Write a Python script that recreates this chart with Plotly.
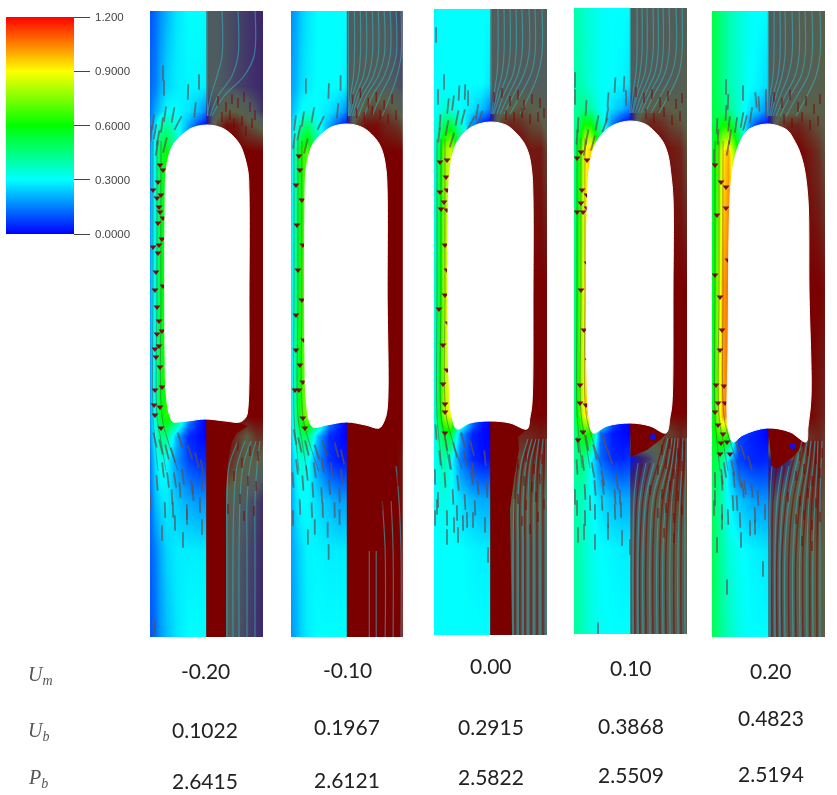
import numpy as np
import plotly.graph_objects as go

# table under the panels
UM = ["-0.20", "-0.10", "0.00", "0.10", "0.20"]
UB = ["0.1022", "0.1967", "0.2915", "0.3868", "0.4823"]
PB = ["2.6415", "2.6121", "2.5822", "2.5509", "2.5194"]

# speed field, left half of each panel (rows = GRID_Y, cols = LEFT_X)
GRID_Y = [0, 75, 100, 114, 140, 280, 405, 425, 450, 490, 540, 626]
LEFT_X = [0, 5, 10, 16, 26, 38, 48, 56.4]
P1_LEFT = [
    [.10, .13, .17, .21, .27, .30, .30, .30],
    [.12, .15, .20, .25, .28, .29, .29, .28],
    [.14, .20, .25, .30, .30, .27, .22, .15],
    [.16, .27, .38, .42, .33, .20, .08, .00],
    [.18, .36, .54, .60, .40, .10, .02, .00],
    [.20, .36, .56, .64, .60, .60, .60, .60],
    [.20, .36, .56, .64, .55, .20, .05, .00],
    [.18, .32, .44, .45, .22, .05, .02, .00],
    [.15, .27, .32, .30, .18, .08, .05, .05],
    [.13, .22, .26, .28, .24, .20, .18, .18],
    [.11, .15, .20, .25, .28, .28, .28, .28],
    [.10, .13, .18, .22, .27, .30, .30, .30],
]
P2_LEFT = [
    [.17, .20, .24, .27, .30, .30, .30, .30],
    [.19, .22, .26, .28, .30, .30, .30, .28],
    [.22, .26, .30, .32, .30, .27, .22, .15],
    [.24, .32, .42, .47, .34, .20, .08, .00],
    [.26, .44, .62, .70, .45, .10, .02, .00],
    [.28, .46, .66, .76, .70, .70, .70, .70],
    [.28, .46, .66, .76, .60, .20, .05, .00],
    [.25, .38, .47, .48, .22, .05, .02, .00],
    [.22, .30, .35, .32, .18, .06, .03, .03],
    [.20, .27, .30, .30, .26, .22, .19, .19],
    [.19, .23, .26, .29, .29, .28, .28, .28],
    [.18, .21, .25, .28, .30, .30, .30, .30],
]
P3_LEFT = [
    [.29, .30, .30, .30, .30, .30, .30, .30],
    [.30, .30, .30, .30, .30, .30, .30, .27],
    [.30, .32, .35, .33, .30, .27, .22, .15],
    [.32, .38, .48, .52, .36, .18, .05, .00],
    [.34, .52, .76, .84, .50, .10, .02, .00],
    [.36, .56, .80, .90, .85, .85, .85, .85],
    [.36, .56, .80, .90, .60, .20, .03, .00],
    [.33, .45, .54, .55, .20, .04, .01, .00],
    [.30, .36, .40, .33, .15, .05, .02, .02],
    [.30, .32, .33, .31, .26, .22, .20, .20],
    [.30, .30, .30, .30, .30, .29, .28, .28],
    [.30, .30, .30, .30, .30, .30, .30, .30],
]
P4_LEFT = [
    [.40, .38, .36, .34, .31, .30, .30, .30],
    [.41, .39, .37, .34, .31, .30, .29, .27],
    [.42, .42, .44, .40, .32, .26, .22, .15],
    [.43, .48, .58, .58, .38, .16, .04, .00],
    [.45, .62, .88, .95, .55, .10, .02, .00],
    [.46, .68, .92, 1.0, .90, .90, .90, .90],
    [.46, .68, .92, 1.0, .65, .15, .03, .00],
    [.44, .55, .62, .62, .12, .03, .01, .00],
    [.42, .46, .44, .32, .12, .05, .04, .06],
    [.40, .39, .36, .31, .26, .22, .20, .20],
    [.41, .39, .36, .33, .30, .29, .28, .28],
    [.42, .40, .37, .34, .31, .30, .30, .30],
]
P5_LEFT = [
    [.52, .48, .44, .40, .35, .31, .30, .30],
    [.52, .48, .44, .40, .35, .30, .28, .25],
    [.52, .50, .48, .45, .35, .26, .21, .14],
    [.53, .54, .60, .62, .42, .16, .04, .00],
    [.54, .66, .90, 1.0, .60, .10, .02, .00],
    [.56, .74, 1.0, 1.08, .95, .95, .95, .95],
    [.56, .74, 1.0, 1.08, .70, .10, .03, .00],
    [.55, .62, .67, .60, .08, .04, .02, .00],
    [.52, .50, .42, .25, .08, .05, .04, .05],
    [.50, .44, .38, .30, .24, .20, .18, .18],
    [.50, .45, .40, .35, .31, .29, .28, .27],
    [.50, .46, .42, .38, .33, .30, .30, .30],
]

# glyph overlay, right half (0 blue wake, .2 purple, .4 grey, .6 olive, 1 maroon)
RIGHT_X = [56.6, 66, 76, 86, 96, 106, 113]
P1_RIGHT = [
    [.40, .40, .35, .30, .25, .20, .17],
    [.40, .40, .36, .30, .25, .20, .17],
    [.20, .45, .60, .60, .50, .35, .20],
    [.00, .70, .95, .90, .70, .60, .50],
    [1, 1, 1, 1, 1, 1, 1],
    [1, 1, 1, 1, 1, 1, 1],
    [1, 1, 1, 1, 1, 1, 1],
    [1, 1, 1, .80, .60, .80, .80],
    [1, 1, .90, .70, .60, .60, .50],
    [1, 1, .50, .45, .38, .30, .20],
    [1, 1, .45, .40, .33, .25, .18],
    [1, 1, .42, .38, .30, .22, .17],
]
P2_RIGHT = [
    [.40, .42, .42, .42, .40, .35, .30],
    [.42, .45, .45, .45, .42, .38, .33],
    [.20, .55, .70, .75, .70, .60, .50],
    [.00, .80, .95, .95, .85, .80, .70],
    [1, 1, 1, 1, 1, 1, 1],
    [1, 1, 1, 1, 1, 1, 1],
    [1, 1, 1, 1, 1, 1, 1],
    [1, 1, 1, 1, 1, 1, 1],
    [1, 1, 1, 1, 1, 1, .90],
    [1, 1, 1, 1, 1, 1, .90],
    [1, 1, 1, 1, 1, 1, 1],
    [1, 1, 1, 1, 1, 1, 1],
]
P3_RIGHT = [
    [.43, .43, .43, .43, .43, .43, .43],
    [.43, .43, .43, .43, .43, .43, .43],
    [.15, .50, .60, .65, .60, .55, .45],
    [.00, .75, .85, .80, .70, .65, .50],
    [1, 1, 1, 1, .90, .90, .70],
    [1, 1, 1, 1, 1, 1, 1],
    [1, 1, 1, 1, 1, 1, 1],
    [1, 1, .90, .85, .85, .90, .85],
    [1, 1, .75, .70, .75, .80, .75],
    [1, .85, .62, .62, .62, .62, .55],
    [1, 1, .50, .50, .50, .50, .45],
    [1, 1, .45, .45, .45, .45, .43],
]
P4_RIGHT = [
    [.45, .45, .45, .45, .45, .47, .50],
    [.45, .45, .45, .45, .47, .50, .55],
    [.15, .50, .60, .65, .60, .55, .55],
    [.00, .70, .85, .80, .70, .65, .55],
    [1, 1, 1, 1, .90, .85, .65],
    [1, 1, 1, 1, 1, 1, 1],
    [1, 1, 1, 1, 1, 1, 1],
    [1, .95, .80, .70, .75, .85, .80],
    [.00, .12, .30, .60, .75, .85, .75],
    [.30, .40, .55, .65, .72, .72, .62],
    [.42, .48, .52, .55, .58, .58, .55],
    [.45, .50, .50, .50, .50, .50, .50],
]
P5_RIGHT = [
    [.45, .45, .47, .50, .52, .55, .60],
    [.45, .45, .47, .50, .52, .55, .60],
    [.15, .50, .55, .60, .60, .60, .60],
    [.00, .70, .85, .85, .75, .65, .60],
    [1, 1, 1, 1, .90, .80, .65],
    [1, 1, 1, 1, 1, 1, .95],
    [1, 1, 1, 1, 1, .90, .85],
    [1, 1, 1, .90, .80, .85, .75],
    [.05, .10, .20, .50, .75, .85, .70],
    [.30, .45, .55, .65, .72, .75, .60],
    [.38, .45, .52, .58, .60, .62, .60],
    [.40, .45, .50, .52, .55, .58, .60],
]

# bubble outlines
P1_BUB_X = [57, 72, 82, 90, 94, 98, 99, 99, 98, 96, 90, 75, 55, 38, 28, 23, 19, 16, 15, 15, 16, 19, 23, 32, 42, 57]
P1_BUB_Y = [114, 117, 124, 134, 144, 161, 181, 280, 396, 406, 411, 410, 408, 410, 411, 411, 402, 380, 340, 201, 161, 144, 134, 124, 117, 114]
P2_BUB_X = [56, 71, 81, 89, 93, 96, 97, 97, 97, 94, 89, 75, 56, 36, 22, 18, 15, 14, 14, 15, 18, 22, 31, 41, 56]
P2_BUB_Y = [113, 116, 123, 133, 143, 160, 180, 280, 398, 410, 417, 414, 411, 414, 416, 408, 385, 340, 201, 161, 144, 133, 123, 116, 113]
P3_BUB_X = [56, 72, 82, 90, 95, 98, 99, 99, 98, 96, 93, 76, 56, 36, 23, 18, 15, 14, 16, 19, 23, 32, 42, 56]
P3_BUB_Y = [113, 116, 124, 134, 146, 165, 190, 280, 394, 408, 420, 414, 412, 414, 420, 408, 370, 208, 160, 144, 133, 122, 116, 113]
P4_BUB_X = [56, 71, 81, 89, 94, 97, 99, 99, 98, 96, 92, 76, 56, 33, 19, 15, 13, 13, 15, 18, 23, 32, 42, 56]
P4_BUB_Y = [113, 116, 124, 134, 147, 167, 190, 280, 395, 409, 425, 418, 415, 418, 425, 409, 370, 209, 162, 146, 133, 122, 116, 113]
P5_BUB_X = [55, 75, 82, 87, 92, 96, 97, 99, 96, 94, 78, 55, 31, 21, 16, 15, 16, 18, 21, 25, 29, 36, 55]
P5_BUB_Y = [113, 119, 129, 139, 156, 189, 280, 386, 416, 431, 421, 417, 424, 431, 416, 402, 340, 189, 156, 139, 129, 119, 113]

# solid maroon wake behind the bubble
P1_WAKE_X = [56.6, 80, 98, 87, 82, 78, 76, 76, 56.6]
P1_WAKE_Y = [408, 409, 415, 422, 430, 450, 480, 626, 626]
P3_WAKE_X = [56.6, 78, 93, 84, 85, 80, 76, 78, 56.6]
P3_WAKE_Y = [411, 412, 420, 428, 440, 470, 500, 626, 626]
P4_WAKE_X = [56.6, 75, 92, 86, 73, 56.6]
P4_WAKE_Y = [414, 417, 426, 432, 442, 449]
P5_WAKE_X = [58, 75, 94, 81, 66, 60, 58]
P5_WAKE_Y = [417, 418, 431, 446, 457, 456, 436]
DOT_X = [None, None, None, 79, 81]
DOT_Y = [None, None, None, 429, 435]

# streamlines above the bubble (x at each y of TOP_Y)
TOP_Y = [0, 45, 65, 85, 105]
P1_TOP = [[57, 57, 57, 57, 58], [72, 72, 67, 61, 57], [88, 88, 82, 68, 60], [105, 104, 94, 74, 62]]
P2_TOP = [[58, 58, 58, 58, 58], [64, 64, 63, 60, 58], [70, 70, 68, 62, 59], [76, 76, 73, 65, 60],
          [82, 82, 78, 68, 62], [88, 88, 83, 72, 64], [94, 94, 88, 76, 68], [100, 100, 94, 82, 74],
          [106, 106, 100, 90, 82], [111, 111, 107, 100, 92]]
P3_TOP = [[57, 57, 57, 57, 57], [64, 64, 63, 60, 58], [70, 70, 68, 63, 59], [76, 76, 73, 66, 60],
          [82, 82, 79, 70, 63], [88, 88, 84, 75, 66], [95, 95, 90, 80, 70], [101, 101, 97, 87, 76],
          [108, 108, 104, 96, 86]]
P4_TOP = [[56, 56, 56, 56, 56], [63, 63, 62, 59, 57], [68, 68, 66, 62, 58], [73, 73, 71, 64, 59],
          [79, 79, 76, 68, 61], [84, 84, 81, 72, 64], [89, 89, 86, 76, 67], [95, 95, 91, 81, 71],
          [102, 102, 98, 88, 77], [108, 108, 105, 96, 85]]
P5_TOP = [[56, 56, 56, 56, 56], [62, 62, 61, 58, 57], [68, 68, 66, 61, 58], [73, 73, 70, 64, 59],
          [80, 80, 76, 68, 61], [87, 87, 83, 73, 64], [93, 93, 89, 78, 68], [100, 100, 96, 85, 74],
          [108, 108, 104, 95, 84]]

# streamlines below the bubble (x at each y of BOT_Y)
BOT_Y = [626, 540, 490, 455, 430]
P1_BOT = [[77, 77, 77, 79, 88], [83, 83, 84, 87, 95], [89, 89, 90, 93, 101], [97, 97, 97, 100, 106], [105, 105, 105, 107, 110]]
P2_BOT = [[79, 79, None, None, None], [86, 86, None, None, None], [95, 95, 92, None, None],
          [103, 103, 101, None, None], [111, 111, 109, 106, None]]
P3_BOT = [[79, 79, 80, None, None], [84, 84, 84, 87, 94], [89, 89, 89, 92, 98], [94, 94, 94, 96, 102],
          [100, 100, 100, 102, 105], [106, 106, 106, 107, 109], [112, 112, 112, 112, 112]]
P4_BOT = [[59, 59, 60, 64, None], [64, 64, 66, 72, None], [69, 69, 72, 80, None], [76, 76, 79, 88, 94],
          [83, 83, 86, 94, 98], [89, 89, 92, 98, 101], [96, 96, 98, 102, 104], [104, 104, 106, 108, 109],
          [111, 111, 111, 112, 112]]
P5_BOT = [[58, 58, 58, 60, None], [63, 63, 65, 70, None], [68, 68, 71, 77, None], [73, 73, 77, 84, 90],
          [81, 81, 85, 91, 95], [88, 88, 91, 96, 99], [95, 95, 97, 101, 103], [101, 101, 103, 105, 106],
          [108, 108, 108, 109, 110]]

# dark stripes between the lower streamlines
P3_STRIPE = [[81, 81, 81, 84, None], [86, 86, 86, 89, 96], [91, 91, 91, 94, 100], [97, 97, 97, 99, 103],
             [103, 103, 103, 104, 107], [109, 109, 109, 110, 111]]
P4_STRIPE = [[61, 61, 63, 68, None], [66, 66, 69, 76, None], [72, 72, 75, 84, 91], [79, 79, 82, 91, 96],
             [86, 86, 89, 96, 100], [92, 92, 95, 100, 103], [100, 100, 102, 105, 107], [107, 107, 108, 110, 111]]
P5_STRIPE = [[60, 60, 61, 65, None], [65, 65, 68, 73, None], [70, 70, 74, 80, 88], [77, 77, 81, 88, 93],
             [84, 84, 88, 94, 97], [91, 91, 94, 98, 101], [98, 98, 100, 103, 105], [105, 105, 106, 107, 108]]

# dark lines running along the film and out into the fan under the bubble
FILM_Y = [130, 280, 405, 430, 460]
FILM_ROWS = [[3, 3, 3, 5, 8], [7, 7, 7, 11, 16], [11, 11, 12, 18, 28]]

# arrow shafts on the left half
P1_TICK_X = [13, 14, 38, 49, 45, 15, 23, 28, 12, 3, 5, 8, 1, 15, 7,
             5, 11, 17, 23, 30, 40, 47, 52, 13, 18, 25, 33, 42, 52, 7, 22, 30, 43, 0, 15, 23, 37, 50, 25, 37, 12, 52, 33, 5]
P1_TICK_Y = [62, 77, 81, 71, 99, 103, 104, 112, 114, 111, 121, 127, 122, 134, 137,
             429, 436, 441, 444, 429, 441, 449, 456, 459, 469, 469, 466, 476, 472, 472, 486, 479, 482, 491, 499, 499, 501, 494, 512, 506, 522, 516, 529, 617]
P1_TICK_A = [0, 0, 2, 0, 6, 8, 10, 28, 8, 7, 10, 11, 4, 14, 10,
             -13, -13, -14, -17, -18, -18, -14, -10, -7, -7, -8, -8, -6, -4, -4, -4, -4, -3, 0, -2, -2, -1, -1, -1, -1, 0, 0, 0, 0]
P2_TICK_X = [15, 38, 50, 47, 12, 22, 30, 4, 8, 15, 3,
             4, 9, 16, 26, 34, 46, 52, 6, 16, 24, 32, 41, 51, 2, 12, 22, 31, 39, 49, 9, 21, 32, 44, 2, 17, 24, 37, 49, 38]
P2_TICK_Y = [75, 80, 72, 100, 108, 104, 112, 112, 122, 135, 130,
             426, 434, 437, 441, 437, 439, 446, 456, 462, 459, 454, 459, 466, 469, 472, 479, 484, 476, 484, 496, 499, 499, 499, 507, 526, 516, 519, 506, 541]
P2_TICK_A = [0, 2, 0, 6, 8, 10, 25, 7, 11, 14, 7,
             -10, -13, -14, -17, -18, -15, -13, -7, -7, -8, -8, -6, -4, -4, -4, -4, -3, -3, -1, -2, -2, -1, -1, 0, 0, 0, 0, 0, 0]
P3_TICK_X = [2, 10, 4, 25, 31, 34, 14, 19, 43, 6, 13, 23, 29, 37, 46, 5, 18,
             2, 12, 21, 29, 38, 6, 16, 31, 39, 51, 1, 11, 24, 38, 44, 53, 4, 19, 31, 41, 3, 13, 23, 33, 1, 20, 29, 39, 51, 13, 24, 54]
P3_TICK_Y = [26, 73, 88, 84, 83, 89, 97, 94, 103, 113, 119, 109, 108, 114, 109, 126, 131,
             423, 434, 441, 431, 439, 449, 453, 449, 461, 449, 468, 471, 474, 468, 478, 481, 491, 488, 493, 499, 498, 509, 504, 511, 509, 516, 514, 511, 516, 528, 526, 546]
P3_TICK_A = [0, 0, 0, 3, 2, 0, 6, 7, 10, 4, 10, 11, 14, 28, 18, 7, 17,
             -4, -10, -14, -15, -15, -6, -8, -10, -8, -6, -1, -4, -6, -7, -4, -2, -1, -3, -3, -2, 0, -1, -1, -1, 0, -1, -1, 0, 0, 0, 0, 0]
P4_TICK_X = [1, 1, 41, 50, 52, 34, 12, 33, 23, 4, 31, 3, 13, 19, 11,
             4, 13, 21, 31, 36, 3, 9, 19, 29, 43, 1, 11, 21, 29, 41, 46, 3, 16, 28, 41, 47, 11, 21, 34, 4, 10, 21, 34, 48, 24, 56]
P4_TICK_Y = [72, 89, 77, 76, 90, 92, 100, 107, 115, 117, 117, 129, 129, 135, 140,
             437, 435, 444, 435, 449, 459, 455, 462, 470, 474, 489, 484, 480, 479, 489, 489, 500, 495, 495, 504, 502, 510, 504, 512, 527, 524, 534, 524, 530, 622, 539]
P4_TICK_A = [0, 0, 3, 2, 0, 4, 3, 10, 11, 3, 21, 4, 11, 15, 10,
             -7, -10, -14, -17, -18, -4, -7, -10, -10, -8, 0, -3, -5, -6, -4, -3, 0, -2, -3, -2, -1, -1, -1, -1, 0, 0, 0, 0, 0, 0, 0]
P5_TICK_X = [14, 31, 16, 14, 44, 47, 54, 54, 39, 5, 17, 24, 30, 33, 6, 18, 2, 16,
             25, 31, 38, 13, 21, 10, 28, 3, 10, 22, 31, 40, 3, 21, 33, 46, 2, 10, 16, 25, 43, 53, 28, 10, 38, 43, 5, 29, 51, 15]
P5_TICK_Y = [76, 82, 91, 102, 89, 93, 86, 99, 104, 115, 113, 114, 109, 112, 126, 126, 146, 137,
             434, 441, 452, 459, 457, 466, 469, 469, 472, 469, 479, 479, 487, 492, 476, 487, 497, 501, 506, 492, 504, 501, 509, 511, 517, 516, 534, 529, 558, 576]
P5_TICK_A = [0, 0, 2, 3, -6, -4, 0, 0, 8, 3, 7, 8, 10, 14, 3, 8, 1, 10,
             -17, -18, -15, -8, -11, -6, -10, -1, -4, -6, -7, -6, -1, -3, -6, -3, 0, -1, -2, -3, -2, -1, -2, 0, -1, -1, 0, 0, 0, 0]

# arrow heads inside the film
P1_HEAD_X = [10, 13, 8, 3, 11, 7, 9, 10, 13, 8, 12, 9, 3, 8, 6, 13, 5, 7, 9, 12, 7, 9, 5, 6, 10, 12, 5, 10, 4, 5, 11]
P1_HEAD_Y = [154, 159, 171, 179, 184, 187, 196, 201, 207, 212, 228, 234, 236, 242, 261, 275, 279, 296, 310, 320, 323, 335, 338, 346, 356, 376, 379, 396, 394, 404, 417]
P2_HEAD_X = [8, 9, 5, 11, 6, 12, 7, 11, 5, 13, 9, 5, 4, 8, 12, 14, 12]
P2_HEAD_Y = [145, 159, 174, 189, 214, 234, 259, 289, 304, 329, 354, 339, 379, 379, 371, 417, 407]
P3_HEAD_X = [6, 13, 12, 6, 13, 10, 7, 13, 11, 13, 11, 14, 5, 9, 13, 9, 11, 11, 11]
P3_HEAD_Y = [153, 151, 168, 183, 181, 193, 200, 201, 236, 261, 286, 314, 300, 336, 361, 375, 395, 403, 424]
P4_HEAD_X = [3, 7, 13, 8, 13, 7, 3, 9, 13, 13, 7, 10, 14, 6, 6, 12, 9, 4]
P4_HEAD_Y = [150, 144, 152, 182, 187, 195, 204, 204, 200, 255, 282, 322, 352, 377, 395, 397, 424, 432]
P5_HEAD_X = [3, 9, 14, 14, 5, 16, 3, 8, 10, 8, 4, 12, 6, 13, 3, 6, 11, 9, 15, 8, 18]
P5_HEAD_Y = [154, 171, 176, 197, 204, 249, 264, 286, 319, 339, 374, 375, 392, 392, 401, 414, 423, 432, 431, 443, 443]

# dark speckle on the right half
P1_SPECK_X = [68, 76, 82, 88, 94, 100, 105, 72, 80, 92, 102, 84, 96, 88, 100, 108, 92, 84, 98, 106, 90, 78, 94, 104]
P1_SPECK_Y = [90, 96, 88, 92, 86, 96, 104, 106, 104, 110, 112, 112, 120, 435, 440, 445, 452, 465, 470, 475, 488, 498, 505, 500]
P2_SPECK_X = [62, 70, 78, 86, 94, 102, 66, 74, 82, 90, 98, 106, 84, 92, 100, 108]
P2_SPECK_Y = [88, 82, 92, 86, 94, 88, 102, 106, 100, 104, 108, 104, 505, 495, 482, 470]
P3_SPECK_X = [60, 68, 76, 84, 90, 98, 106, 72, 80, 88, 96, 104, 110, 84, 92, 100, 108, 90, 98, 106, 84, 92, 102, 110, 88, 96, 104]
P3_SPECK_Y = [88, 84, 92, 86, 96, 90, 94, 106, 108, 104, 110, 108, 104, 455, 448, 460, 450, 472, 478, 470, 490, 496, 488, 495, 512, 520, 508]
P4_SPECK_X = [62, 70, 78, 86, 94, 102, 108, 72, 80, 90, 98, 106, 88, 96, 104, 110, 84, 92, 100, 108, 76, 88, 96, 104, 84, 92, 100, 108, 90, 100]
P4_SPECK_Y = [84, 90, 86, 94, 88, 96, 90, 106, 110, 104, 112, 108, 442, 436, 445, 438, 462, 456, 466, 458, 482, 486, 478, 488, 505, 500, 510, 502, 525, 530]
P5_SPECK_X = [62, 70, 78, 86, 94, 102, 108, 72, 80, 90, 98, 106, 88, 96, 104, 110, 84, 92, 100, 108, 76, 88, 96, 104, 84, 92, 100, 108, 90, 100]
P5_SPECK_Y = [86, 92, 84, 96, 90, 98, 88, 108, 112, 106, 114, 110, 445, 440, 448, 442, 465, 458, 470, 462, 486, 490, 482, 492, 508, 504, 514, 506, 530, 535]

LEFT_FIELDS = [P1_LEFT, P2_LEFT, P3_LEFT, P4_LEFT, P5_LEFT]
RIGHT_FIELDS = [P1_RIGHT, P2_RIGHT, P3_RIGHT, P4_RIGHT, P5_RIGHT]
BUBBLES = [(P1_BUB_X, P1_BUB_Y), (P2_BUB_X, P2_BUB_Y), (P3_BUB_X, P3_BUB_Y), (P4_BUB_X, P4_BUB_Y), (P5_BUB_X, P5_BUB_Y)]
WAKES = [(P1_WAKE_X, P1_WAKE_Y), None, (P3_WAKE_X, P3_WAKE_Y), (P4_WAKE_X, P4_WAKE_Y), (P5_WAKE_X, P5_WAKE_Y)]
TOPS = [P1_TOP, P2_TOP, P3_TOP, P4_TOP, P5_TOP]
BOTS = [P1_BOT, P2_BOT, P3_BOT, P4_BOT, P5_BOT]
STRIPES = [[], [], P3_STRIPE, P4_STRIPE, P5_STRIPE]
TICKS = [(P1_TICK_X, P1_TICK_Y, P1_TICK_A), (P2_TICK_X, P2_TICK_Y, P2_TICK_A), (P3_TICK_X, P3_TICK_Y, P3_TICK_A),
         (P4_TICK_X, P4_TICK_Y, P4_TICK_A), (P5_TICK_X, P5_TICK_Y, P5_TICK_A)]
HEADS = [(P1_HEAD_X, P1_HEAD_Y), (P2_HEAD_X, P2_HEAD_Y), (P3_HEAD_X, P3_HEAD_Y), (P4_HEAD_X, P4_HEAD_Y), (P5_HEAD_X, P5_HEAD_Y)]
SPECKS = [(P1_SPECK_X, P1_SPECK_Y), (P2_SPECK_X, P2_SPECK_Y), (P3_SPECK_X, P3_SPECK_Y), (P4_SPECK_X, P4_SPECK_Y), (P5_SPECK_X, P5_SPECK_Y)]

W, H = 837, 795
# panel boxes on the page in pixels: left, right, top, bottom
BOXES = [(150, 263, 11, 637), (291, 403, 11, 637), (434, 547, 9, 635), (574, 687, 8, 634), (712, 825, 11, 637)]
COL_X = [205, 347, 491, 631, 771]
UM_ROW = [670, 669, 665, 667, 670]
UB_ROW = [729, 726, 726, 725, 717]
PB_ROW = [780, 779, 776, 774, 773]

RAINBOW = [[0, "#0000ff"], [.25, "#00ffff"], [.5, "#00ff00"], [.75, "#ffff00"], [1, "#ff0000"]]
OVERLAY = [[0, "#0a14e6"], [.15, "#3a2070"], [.4, "#4e5c60"], [.6, "#5a6048"], [1, "#7a0000"]]


def polylines(rows, ys):
    # join rows into one x/y pair with gaps between the lines
    xs, yy = [], []
    for row in rows:
        xs += row + [None]
        yy += ys + [None]
    return xs, yy


fig = go.Figure()
layout = {}

for i in range(5):
    xa = "x" if i == 0 else "x%d" % (i + 1)
    ya = "y" if i == 0 else "y%d" % (i + 1)
    left, right, top, bottom = BOXES[i]
    layout["xaxis" if i == 0 else "xaxis%d" % (i + 1)] = dict(
        domain=[left / W, right / W], range=[0, 113], visible=False, anchor=ya, fixedrange=True)
    layout["yaxis" if i == 0 else "yaxis%d" % (i + 1)] = dict(
        domain=[1 - bottom / H, 1 - top / H], range=[626, 0], visible=False, anchor=xa, fixedrange=True)

    # repeat the edge column so the half cell beyond the split stays tiny
    zl = np.array(LEFT_FIELDS[i])
    zl = np.hstack([zl, zl[:, -1:]])
    fig.add_trace(go.Heatmap(x=LEFT_X + [56.6], y=GRID_Y, z=zl, zsmooth="best", coloraxis="coloraxis",
                             hoverinfo="skip", xaxis=xa, yaxis=ya))
    zr = np.array(RIGHT_FIELDS[i])
    zr = np.hstack([zr[:, :1], zr])
    fig.add_trace(go.Heatmap(x=[56.4] + RIGHT_X, y=GRID_Y, z=zr, zsmooth="best", coloraxis="coloraxis2",
                             hoverinfo="skip", xaxis=xa, yaxis=ya))

    if WAKES[i] is not None:
        fig.add_trace(go.Scatter(x=WAKES[i][0], y=WAKES[i][1], mode="lines", fill="toself", fillcolor="#7a0000",
                                 line=dict(color="#7a0000", width=0), xaxis=xa, yaxis=ya, hoverinfo="skip"))
    if DOT_X[i] is not None:
        fig.add_trace(go.Scatter(x=[DOT_X[i]], y=[DOT_Y[i]], mode="markers", marker=dict(color="#0a14e6", size=6),
                                 xaxis=xa, yaxis=ya, hoverinfo="skip"))

    # film lines
    fx, fy = polylines(FILM_ROWS, FILM_Y)
    fig.add_trace(go.Scatter(x=fx, y=fy, mode="lines", line=dict(color="rgba(70,60,60,0.45)", width=1, shape="spline"),
                             xaxis=xa, yaxis=ya, hoverinfo="skip"))

    # dark stripes, then streamlines
    if STRIPES[i]:
        dx, dy = polylines(STRIPES[i], BOT_Y)
        fig.add_trace(go.Scatter(x=dx, y=dy, mode="lines", line=dict(color="rgba(122,0,0,0.55)", width=1.5, shape="spline"),
                                 xaxis=xa, yaxis=ya, hoverinfo="skip"))
    tx, ty = polylines(TOPS[i], TOP_Y)
    bx, by = polylines(BOTS[i], BOT_Y)
    fig.add_trace(go.Scatter(x=tx + bx, y=ty + by, mode="lines",
                             line=dict(color="rgba(55,175,185,0.6)", width=1.2, shape="spline"),
                             xaxis=xa, yaxis=ya, hoverinfo="skip"))

    # right side speckle
    fig.add_trace(go.Scatter(x=SPECKS[i][0], y=SPECKS[i][1], mode="markers",
                             marker=dict(symbol="line-ns", size=7, line=dict(color="rgba(122,0,0,0.6)", width=1.5)),
                             xaxis=xa, yaxis=ya, hoverinfo="skip"))

    # arrow shafts
    fig.add_trace(go.Scatter(x=TICKS[i][0], y=TICKS[i][1], mode="markers",
                             marker=dict(symbol="line-ns", size=11, angle=TICKS[i][2],
                                         line=dict(color="rgba(95,80,85,0.7)", width=1.8)),
                             xaxis=xa, yaxis=ya, hoverinfo="skip"))
    # film heads
    fig.add_trace(go.Scatter(x=HEADS[i][0], y=HEADS[i][1], mode="markers",
                             marker=dict(symbol="triangle-down", size=6, color="#7a0a14"),
                             xaxis=xa, yaxis=ya, hoverinfo="skip"))

    # bubble on top
    fig.add_trace(go.Scatter(x=BUBBLES[i][0], y=BUBBLES[i][1], mode="lines", fill="toself", fillcolor="white",
                             line=dict(color="white", width=1, shape="spline", smoothing=1.0),
                             xaxis=xa, yaxis=ya, hoverinfo="skip"))

# table text
notes = []
for i in range(5):
    for txt, row in [(UM[i], UM_ROW[i]), (UB[i], UB_ROW[i]), (PB[i], PB_ROW[i])]:
        notes.append(dict(x=COL_X[i] / W, y=1 - row / H, xref="paper", yref="paper", text=txt, showarrow=False,
                          xanchor="center", yanchor="middle", font=dict(family="Lato", size=21, color="#222222")))
for txt, row in [("U<sub>m</sub>", 675), ("U<sub>b</sub>", 731), ("P<sub>b</sub>", 778)]:
    notes.append(dict(x=26 / W, y=1 - row / H, xref="paper", yref="paper", text="<i>" + txt + "</i>", showarrow=False,
                      xanchor="left", yanchor="middle", font=dict(family="Liberation Serif", size=20, color="#555555")))

layout.update(
    width=W, height=H, showlegend=False, paper_bgcolor="white", plot_bgcolor="white",
    margin=dict(l=0, r=0, t=0, b=0, autoexpand=False), annotations=notes,
    coloraxis=dict(cmin=0, cmax=1.2, colorscale=RAINBOW, colorbar=dict(
        x=6 / W, xanchor="left", xpad=0, y=1 - 17 / H, yanchor="top", ypad=0, len=217, lenmode="pixels",
        thickness=68, thicknessmode="pixels", outlinewidth=0, ticks="outside", ticklen=16, tickwidth=1,
        tickcolor="#444444", tickvals=[0, .3, .6, .9, 1.2],
        ticktext=[" 0.0000", " 0.3000", " 0.6000", " 0.9000", " 1.200"],
        tickfont=dict(family="Liberation Sans", size=11.5, color="#444444"))),
    coloraxis2=dict(cmin=0, cmax=1, colorscale=OVERLAY, showscale=False),
)
fig.update_layout(layout)
fig.write_html("out.html", config=dict(displayModeBar=False),
               post_script="document.body.style.margin='0';document.body.style.overflow='hidden';"
                           "document.querySelector('.plotly-graph-div').style.filter='blur(0.5px)';")
